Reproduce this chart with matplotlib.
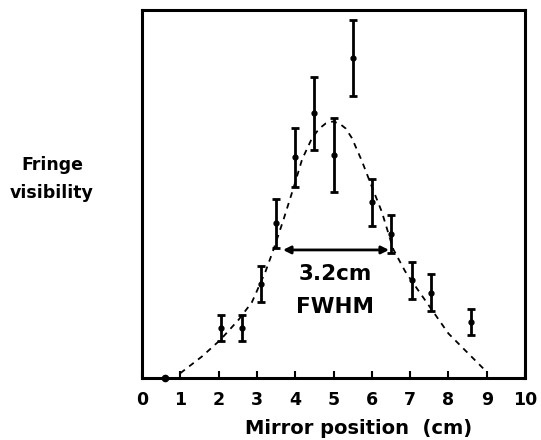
import matplotlib
matplotlib.use("Agg")
import matplotlib.pyplot as plt

# Measured data points (mirror position in cm, fringe visibility in arbitrary units)
pos = [2.05, 2.6, 3.1, 3.5, 4.0, 4.5, 5.0, 5.5, 6.0, 6.5, 7.05, 7.55, 8.6]
vis = [0.135, 0.135, 0.255, 0.420, 0.600, 0.719, 0.606, 0.870, 0.477, 0.392, 0.265, 0.232, 0.152]
err = [0.035, 0.035, 0.048, 0.067, 0.080, 0.100, 0.100, 0.103, 0.065, 0.052, 0.050, 0.051, 0.035]

# Isolated point lying on the axis
zero_pos = [0.6]
zero_vis = [0.0]

# Dashed fitted curve
curve_x = [1.0, 1.56, 2.04, 2.52, 2.87, 3.22, 3.43, 3.69, 3.96, 4.18, 4.43, 4.62, 4.80,
           4.98, 5.15, 5.32, 5.48, 5.74, 6.00, 6.26, 6.56, 6.87, 7.22, 7.57, 8.00, 8.43, 8.91, 9.0]
curve_y = [0.013, 0.058, 0.103, 0.158, 0.206, 0.288, 0.348, 0.429, 0.518, 0.594, 0.650, 0.677, 0.692,
           0.697, 0.692, 0.678, 0.652, 0.590, 0.520, 0.452, 0.350, 0.290, 0.237, 0.185, 0.121, 0.076, 0.026, 0.017]

# FWHM arrow
fwhm_left, fwhm_right, fwhm_level = 3.68, 6.45, 0.348
fwhm_text = ["3.2cm", "FWHM"]

xticks = list(range(0, 11))
xlabel = "Mirror position  (cm)"
ylabel_lines = ["Fringe", "visibility"]

FONT = "DejaVu Sans"

fig = plt.figure(figsize=(5.41, 4.40), dpi=100)
W, H = 541, 440
ax = fig.add_axes([142 / W, 1 - 378 / H, 383 / W, 368 / H])

ax.plot(curve_x, curve_y, linestyle=(0, (3.2, 3.0)), color="black", linewidth=1.3)

ax.errorbar(pos, vis, yerr=err, fmt="o", color="black", markersize=3.5,
            elinewidth=2.0, capsize=2.6, capthick=2.0)
ax.plot(zero_pos, zero_vis, "o", color="black", markersize=4.5, clip_on=False, zorder=5)

ax.annotate("", xy=(fwhm_left, fwhm_level), xytext=(fwhm_right, fwhm_level),
            arrowprops=dict(arrowstyle="<|-|>", color="black", lw=2.0,
                            mutation_scale=11, shrinkA=0, shrinkB=0))
ax.text(5.05, 0.283, fwhm_text[0], ha="center", va="center", fontsize=15.5,
        family=FONT, fontweight="bold")
ax.text(5.05, 0.192, fwhm_text[1], ha="center", va="center", fontsize=15.5,
        family=FONT, fontweight="bold")

ax.set_xlim(0, 10)
ax.set_ylim(0, 1)
ax.set_xticks(xticks)
ax.set_xticklabels([str(t) for t in xticks], family=FONT, fontweight="bold", fontsize=12.5)
ax.set_yticks([])
ax.tick_params(axis="x", direction="in", length=5, width=1.5, pad=9)
for s in ax.spines.values():
    s.set_linewidth(2.2)

fig.text(359 / W, 1 - 428 / H, xlabel, ha="center", va="center", fontsize=14,
         family=FONT, fontweight="bold")
fig.text(52 / W, 1 - 165 / H, ylabel_lines[0], ha="center", va="center", fontsize=12.5,
         family=FONT, fontweight="bold")
fig.text(52 / W, 1 - 193 / H, ylabel_lines[1], ha="center", va="center", fontsize=12.5,
         family=FONT, fontweight="bold")

fig.savefig("out.png", dpi=100)
